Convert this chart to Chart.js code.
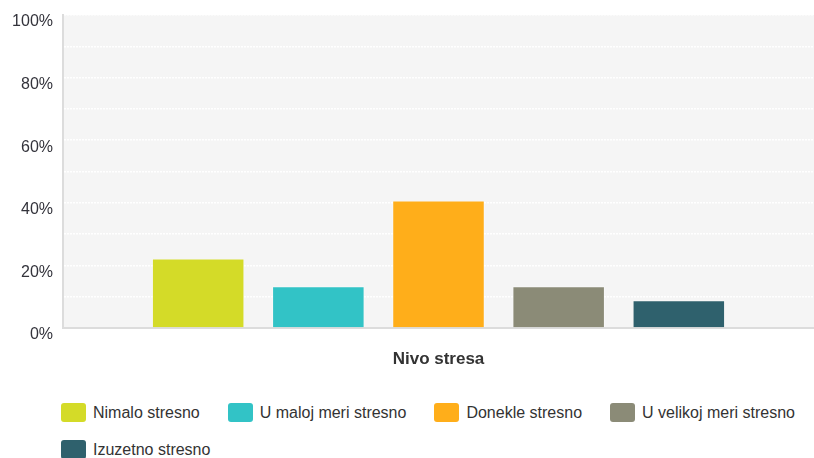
<!DOCTYPE html>
<html>
<head>
<meta charset="utf-8">
<script src="https://cdn.jsdelivr.net/npm/chart.js@4/dist/chart.umd.min.js"></script>
<style>
  html, body { margin: 0; padding: 0; background: #fff; }
  #wrap { position: relative; width: 814px; height: 458px; overflow: hidden; font-family: "Liberation Sans", Arial, sans-serif; }
  #chart-box { position: absolute; left: 0; top: 0; width: 814px; height: 380px; }
  #legend { position: absolute; left: 61px; top: 403px; width: 753px; display: flex; flex-wrap: wrap; row-gap: 18px; column-gap: 28px; }
  .leg-item { display: flex; align-items: center; height: 19px; font-size: 16px; color: #333; white-space: nowrap; }
  .leg-box { width: 25px; height: 19px; border-radius: 3px; margin-right: 7px; }
</style>
</head>
<body>
<div id="wrap">
  <div id="chart-box"><canvas id="chart"></canvas></div>
  <div id="legend"></div>
</div>
<script>
// Nivo stresa — raspodela odgovora (%)
const categories = ["Nivo stresa"];
const seriesNames = ["Nimalo stresno", "U maloj meri stresno", "Donekle stresno", "U velikoj meri stresno", "Izuzetno stresno"];
const seriesValues = [22.2, 13.3, 40.7, 13.3, 8.9];
const seriesColors = ["#d4db28", "#32c3c6", "#ffae1a", "#8b8b77", "#2f616d"];
const yTicks = [0, 20, 40, 60, 80, 100];

const FONT = "'Liberation Sans', Arial, sans-serif";

// svetlo siva pozadina samo unutar oblasti crteza
const plotBg = {
  id: "plotBg",
  beforeDraw(chart) {
    const { ctx, chartArea: a } = chart;
    ctx.save();
    ctx.fillStyle = "#f5f5f5";
    ctx.fillRect(a.left, a.top, a.right - a.left, a.bottom - a.top);
    ctx.restore();
  },
};

const datasets = seriesNames.map((name, i) => ({
  label: name,
  data: [seriesValues[i]],
  backgroundColor: seriesColors[i],
  borderColor: "rgba(255,255,255,0.35)",
  borderWidth: 1,
  categoryPercentage: 0.8,
  barPercentage: 0.77,
}));

new Chart(document.getElementById("chart"), {
  type: "bar",
  data: { labels: categories, datasets },
  plugins: [plotBg],
  options: {
    responsive: true,
    maintainAspectRatio: false,
    animation: false,
    layout: { padding: { top: 15, right: -4, bottom: 0, left: 0 } },
    plugins: { legend: { display: false }, tooltip: { enabled: false } },
    scales: {
      x: {
        grid: { display: false, drawTicks: false },
        border: { display: true, color: "#dcdcdc", width: 2 },
        ticks: { color: "#333", padding: 21, font: { family: FONT, size: 17, weight: "bold" } },
        afterFit(s) { s.height = 52; },
      },
      y: {
        min: 0,
        max: 100,
        grid: { color: "#ffffff", lineWidth: 1.5, drawTicks: false },
        border: { display: true, color: "#dcdcdc", width: 2, dash: [2, 1] },
        ticks: {
          stepSize: 10,
          padding: 10,
          labelOffset: 7,
          color: "#33333b",
          font: { family: FONT, size: 16 },
          callback: (v) => (yTicks.includes(v) ? v + "%" : ""),
        },
        afterFit(s) { s.width = 63; s.paddingTop = 0; s.paddingBottom = 0; },
      },
    },
  },
});

// legenda ispod grafikona
document.getElementById("legend").innerHTML = seriesNames.map((name, i) => `
  <div class="leg-item"><span class="leg-box" style="background:${seriesColors[i]}"></span>${name}</div>
`).join("");
</script>
</body>
</html>
